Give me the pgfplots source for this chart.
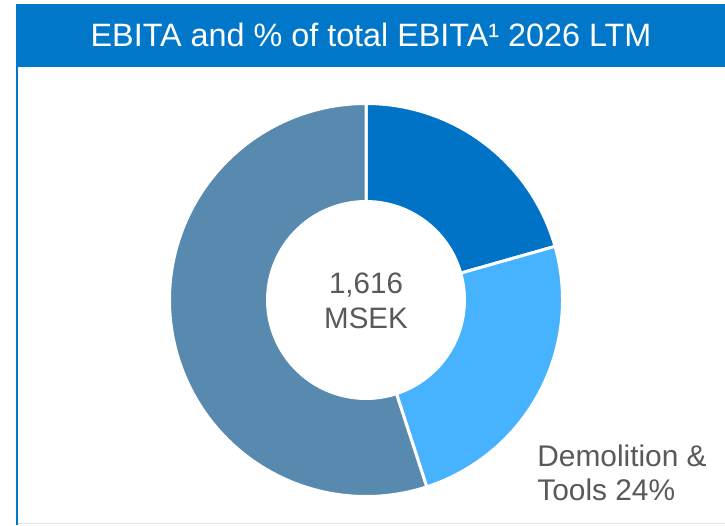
\documentclass[border=0pt]{standalone}
\usepackage{pgfplots}
\usepackage{pgfplotstable}
\pgfplotsset{compat=1.18}
\usepackage{fontspec}
\setmainfont{Liberation Sans}
\definecolor{titleblue}{RGB}{0,119,200}
\definecolor{segA}{RGB}{0,115,198}
\definecolor{segB}{RGB}{71,179,255}
\definecolor{segC}{RGB}{88,137,174}
\definecolor{txtgray}{RGB}{89,89,89}
\definecolor{framelight}{RGB}{214,232,245}

% EBITA share (% of total) by segment, clockwise from 12 o'clock
\pgfplotstableread{
segment pct
SegmentA 20.6
Demolition 24.4
SegmentC 55.0
}\ebitadata

\begin{document}%
\begin{tikzpicture}
\pgfplotstablegetelem{0}{pct}\of\ebitadata\let\pctA\pgfplotsretval
\pgfplotstablegetelem{1}{pct}\of\ebitadata\let\pctB\pgfplotsretval
\pgfplotstablegetelem{2}{pct}\of\ebitadata\let\pctC\pgfplotsretval
\pgfmathsetmacro\angA{90}
\pgfmathsetmacro\angB{\angA-3.6*\pctA}
\pgfmathsetmacro\angC{\angB-3.6*\pctB}
\pgfmathsetmacro\angD{\angC-3.6*\pctC}
\path[use as bounding box] (0,0) rectangle (14.5,10.5);
% frame
\fill[titleblue] (0.32,9.16) rectangle (14.7,10.42);
\draw[framelight, line width=0.03cm] (0.34,0.03) -- (14.7,0.03);
\draw[titleblue, line width=0.045cm] (0.34,9.2) -- (0.34,0.0);
\node[anchor=base, text=white, inner sep=0pt, font=\fontsize{18.4}{22}\selectfont] at (7.42,9.56) {EBITA and \% of total EBITA¹ 2026 LTM};

\begin{axis}[
  at={(7.32cm,4.5cm)}, anchor=origin,
  x=1cm, y=1cm,
  xmin=-4, xmax=4, ymin=-4, ymax=4,
  hide axis, clip=false,
]
\addplot[fill=segA, draw=white, line width=1.7pt, domain=\angB:\angA, samples=80]
  ({3.93*cos(x)},{3.93*sin(x)}) -- (axis cs:0,0) -- cycle;
\addplot[fill=segB, draw=white, line width=1.7pt, domain=\angC:\angB, samples=80]
  ({3.93*cos(x)},{3.93*sin(x)}) -- (axis cs:0,0) -- cycle;
\addplot[fill=segC, draw=white, line width=1.7pt, domain=\angD:\angC, samples=150]
  ({3.93*cos(x)},{3.93*sin(x)}) -- (axis cs:0,0) -- cycle;
\addplot[fill=white, draw=none, domain=0:360, samples=120]
  ({2.0*cos(x)},{2.0*sin(x)}) -- cycle;
\end{axis}

\node[align=center, text=txtgray, inner sep=0pt, font=\fontsize{16.8}{20}\selectfont] at (7.32,4.49) {1,616\\MSEK};
\node[align=left, anchor=north west, text=txtgray, inner sep=0pt, font=\fontsize{17}{19.5}\selectfont] at (10.74,1.62) {Demolition \&\\Tools 24\%};
\end{tikzpicture}%
\end{document}
